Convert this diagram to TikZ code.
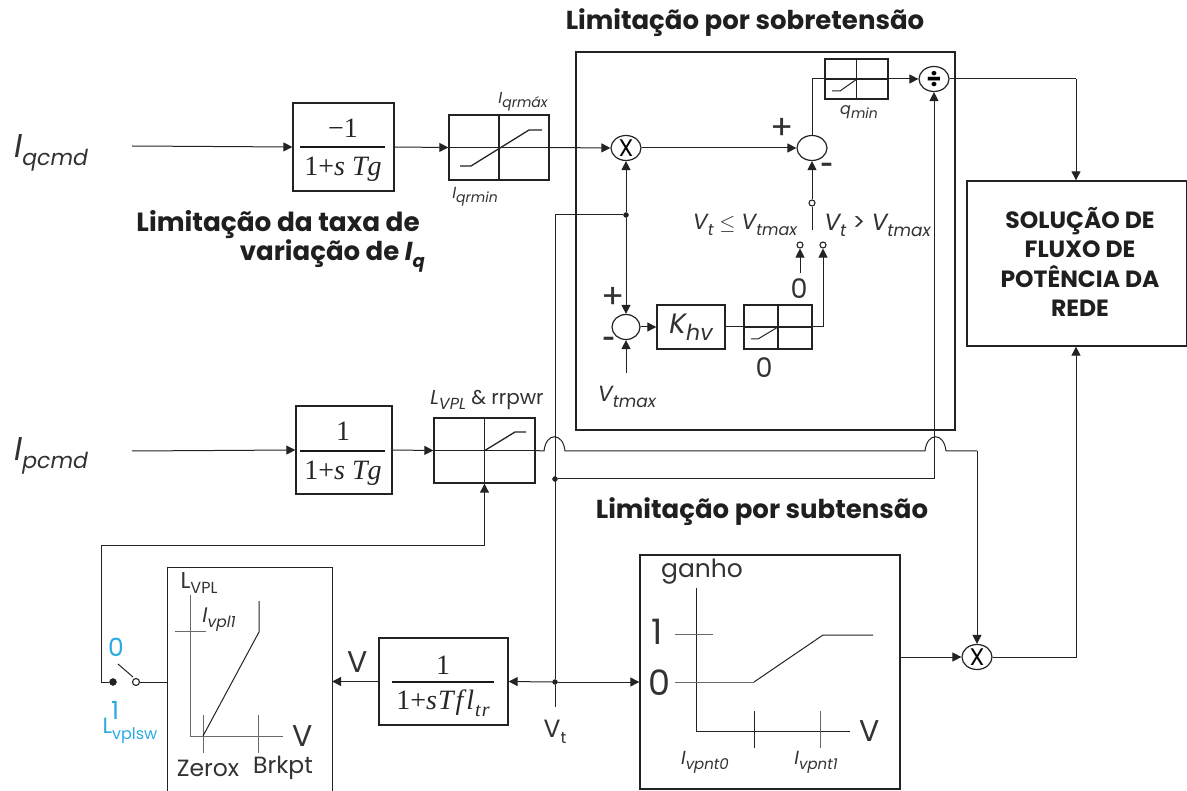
\documentclass[tikz,border=0pt]{standalone}
\usepackage[no-math]{fontspec}
\usepackage{amsmath,amssymb}
\setmainfont{Poppins}
\newfontfamily\fracfont{Liberation Serif}
\definecolor{lineDark}{RGB}{35, 35, 35}
\definecolor{axisGray}{RGB}{105, 105, 105}
\definecolor{textGray}{RGB}{50, 50, 50}
\definecolor{vplCyan}{RGB}{41, 171, 226}
\usetikzlibrary{positioning, calc, shapes.geometric, arrows.meta}
\newcommand{\fsize}[1]{\fontsize{#1}{#1}\selectfont}
\newcommand{\low}[2]{\raisebox{-0.25em}{\fsize{#1}#2}}
\begin{document}
\begin{tikzpicture}[
    x=1pt, y=-1pt,
    sig/.style={draw=lineDark, line width=1pt},
    arr/.style={sig, -{Triangle[length=9pt,width=9pt]}},
    blockbox/.style={rectangle, draw=lineDark, line width=1.3pt, inner sep=0pt},
    satbox/.style={blockbox, line width=1.4pt},
    satline/.style={draw=lineDark, line width=1.4pt},
    fracbar/.style={draw=black!90, line width=2.6pt},
    frac/.style={inner sep=0pt, text=black!85, font=\fracfont\fsize{28}},
    opnode/.style={ellipse, draw=lineDark, line width=1.2pt, fill=white, minimum width=30pt, minimum height=25pt, inner sep=0pt, font=\fsize{24}},
    dot/.style={circle, fill=lineDark, draw=lineDark, inner sep=0pt, minimum size=5pt},
    contact/.style={circle, draw=lineDark, fill=white, line width=1.1pt, inner sep=0pt, minimum size=6pt},
    title/.style={inner sep=0pt, text=black!88, font=\bfseries\fsize{26}},
    lbl/.style={inner sep=0pt, text=textGray, font=\fsize{16}},
    biglbl/.style={inner sep=0pt, text=textGray, font=\fsize{27}},
    axisline/.style={draw=axisGray, line width=1pt},
    curveline/.style={draw=lineDark, line width=1pt},
  ]
    \useasboundingbox (0,0) rectangle (1187,791);

    \node[title] (tover) at (745,23) {Limitação por sobretensão};
    \node[title] (tunder) at (762,512) {Limitação por subtensão};
    \node[title, anchor=east, font=\bfseries\fsize{26.3}] (trate) at (420,225) {Limitação da taxa de};
    \node[title, anchor=east] (tratei) at (425,256) {variação de \textit{I\low{18}{q}}};

    \node[inner sep=0pt, text=textGray, anchor=west, font=\fsize{33}] (iqcmd) at (14,153) {\textit{I\low{22}{qcmd}}};
    \node[inner sep=0pt, text=textGray, anchor=west, font=\fsize{33}] (ipcmd) at (14,456) {\textit{I\low{22}{pcmd}}};
    \coordinate (iqin) at (132,146);
    \coordinate (ipin) at (132,451);

    \node[blockbox, minimum width=101pt, minimum height=88pt] (lagq) at (343.5,147) {};
    \node[frac] (lagqnum) at (343,128) {−1};
    \node[frac] (lagqden) at (343,169) {1+\textit{s\kern7pt Tg}};
    \draw[fracbar] (300,147) -- (385,147);

    \node[blockbox, minimum width=96pt, minimum height=88pt] (lagp) at (344,450) {};
    \node[frac] (lagpnum) at (343,431) {1};
    \node[frac] (lagpden) at (343,473) {1+\textit{s\kern7pt Tg}};
    \draw[fracbar] (300,451) -- (385,451);

    \node[blockbox, minimum width=129pt, minimum height=87pt] (lagv) at (443.5,681.5) {};
    \node[frac] (lagvnum) at (443,665) {1};
    \node[frac] (lagvden) at (443,703) {1+\textit{s\kern1pt T\kern2pt f\kern3pt l}\low{20}{\textit{\kern1pt t\kern1pt r}}};
    \draw[fracbar] (392,682) -- (494,682);

    \node[satbox, minimum width=100pt, minimum height=65pt] (satq) at (499,147.5) {};
    \draw[satline] (satq.north) -- (satq.south) (satq.west) -- (satq.east);
    \draw[curveline, line width=1.3pt] (460,166) -- (471,166) -- (529,130) -- (542,130);
    \node[lbl] (iqmax) at (523,102) {\textit{I\low{14}{qrmáx}}};
    \node[lbl] (iqmin) at (475,197) {\textit{I\low{14}{qrmin}}};

    \node[satbox, minimum width=101pt, minimum height=65pt] (satp) at (484.5,450.5) {};
    \draw[satline] (satp.north) -- (satp.south) (satp.west) -- (satp.east);
    \draw[curveline, line width=1.3pt] (484,451) -- (515,432) -- (526,432);
    \node[lbl, font=\fsize{20}] (lvpl) at (487,400) {\textit{L\low{16}{VPL}} \& rrpwr};

    \node[blockbox, minimum width=379pt, minimum height=378pt] (overbox) at (765.5,241) {};

    \node[satbox, minimum width=63pt, minimum height=40pt] (satqmin) at (856.5,79) {};
    \draw[satline] (satqmin.north) -- (satqmin.south) (satqmin.west) -- (satqmin.east);
    \draw[curveline] (832,91) -- (840,91) -- (857,79);
    \node[lbl] (qmin) at (859,112) {\textit{q\low{14}{min}}};

    \node[opnode] (div) at (934,79) {\bfseries ÷};
    \node[opnode] (multq) at (626,148) {X};
    \node[opnode] (sumq) at (812,148) {};
    \node[opnode, minimum width=28pt] (sumv) at (626,327) {};
    \node[opnode] (multp) at (977,657) {X};

    \node[lbl, font=\fsize{34}] (plusq) at (782,129) {+};
    \node[lbl, font=\bfseries\fsize{22}] (minusq) at (827,168) {-};
    \node[lbl, font=\fsize{34}] (plusv) at (613,298) {+};
    \node[lbl, font=\bfseries\fsize{22}] (minusv) at (609,342) {-};

    \node[blockbox, minimum width=68pt, minimum height=44pt, text=textGray, font=\fsize{28}] (khv) at (691,327) {\textit{K\low{22}{hv}}};
    \node[satbox, minimum width=68pt, minimum height=44pt] (sathv) at (778,327) {};
    \draw[satline] (sathv.north) -- (sathv.south) (sathv.west) -- (sathv.east);
    \draw[curveline] (751,339) -- (758,339) -- (778,327);
    \node[biglbl] (zerohv) at (764,368) {0};
    \node[biglbl] (zerosw) at (799,289) {0};
    \node[lbl, font=\fsize{22}] (vtmaxv) at (627,397) {\textit{V\low{17}{tmax}}};
    \coordinate (vtmaxin) at (626,373);

    \node[contact] (swcom) at (812,203) {};
    \coordinate (swarm) at (812,230);
    \node[contact] (swlow) at (800,245) {};
    \node[contact] (swhigh) at (823,245) {};
    \coordinate (zeroin) at (800,273);
    \node[lbl, font=\fsize{22}] (vtle) at (745,225) {\textit{V\low{16}{t}} $\leq$ \textit{V\low{16}{tmax}}};
    \node[lbl, font=\fsize{23.5}] (vtgt) at (877.5,225) {\textit{V\low{17}{t}} > \textit{V\low{17}{tmax}}};

    \node[blockbox, minimum width=220pt, minimum height=165pt] (grid) at (1077,263.5) {};
    \node[align=center, inner sep=0pt, text=black!88, font=\bfseries\fontsize{23.5}{29.6}\selectfont] (gridtext) at (1080,262) {SOLUÇÃO DE\\FLUXO DE\\POTÊNCIA DA\\REDE};

    \node[inner sep=0pt, minimum width=164pt, minimum height=223pt] (vplbox) at (250,679.5) {};
    \draw[blockbox] (vplbox.south west) -- (vplbox.north west) -- (vplbox.north east) -- (vplbox.south east);
    \draw[axisline] (190,595) -- (190,736) -- (283,736);
    \draw[axisline] (175,631) -- (206,631);
    \draw[axisline] (203,715) -- (203,753);
    \draw[axisline] (258,715) -- (258,753);
    \draw[curveline] (203,736) -- (259,632) -- (259,601);
    \node[lbl, font=\fsize{23}] (lvplaxis) at (199,583) {L\low{16}{VPL}};
    \node[lbl, font=\fsize{21}] (ivpl) at (219,620) {\textit{I\low{15.5}{vpl1}}};
    \node[biglbl, font=\fsize{30}] (vplv) at (303,736) {V};
    \node[lbl, font=\fsize{23.5}] (zerox) at (208,768) {Zerox};
    \node[lbl, font=\fsize{23.5}] (brkpt) at (283,768) {Brkpt};

    \node[blockbox, minimum width=260pt, minimum height=234pt] (gainbox) at (770,672) {};
    \draw[axisline, draw=lineDark] (696,588) -- (696,731) -- (850,731);
    \draw[axisline] (675,634) -- (713,634);
    \draw[axisline] (675,682) -- (754,682);
    \draw[curveline] (754,682) -- (823,635) -- (873,635);
    \draw[curveline] (754,711) -- (754,748);
    \draw[axisline] (820,711) -- (820,748);
    \node[lbl, font=\fsize{25}] (ganho) at (702,572) {ganho};
    \node[lbl, font=\fsize{35}] (gainone) at (657,632) {1};
    \node[lbl, font=\fsize{35}] (gainzero) at (659,683) {0};
    \node[biglbl, font=\fsize{30}] (gainv) at (870,731) {V};
    \node[lbl, font=\fsize{19}] (ipnt0) at (705,762) {\textit{I\low{15}{vpnt0}}};
    \node[lbl, font=\fsize{19}] (ipnt1) at (816,762) {\textit{I\low{15}{vpnt1}}};

    \node[dot] (vtjunc) at (555,682) {};
    \node[dot] (vtup) at (626,215) {};
    \node[dot] (vtdiv) at (555,479) {};
    \coordinate (vtend) at (555,707);
    \node[lbl, font=\fsize{25}] (vtlabel) at (555,732) {V\low{16}{t}};
    \node[biglbl, font=\fsize{30}] (vlag) at (358,662) {V};

    \node[dot, minimum size=7pt] (swout) at (113,682) {};
    \node[contact, minimum size=7pt] (swin) at (136,682) {};
    \coordinate (swlever) at (118,664);
    \coordinate (swlevertip) at (133,677);
    \node[lbl, text=vplCyan, font=\fsize{25}] (swzero) at (116,647) {0};
    \node[lbl, text=vplCyan, font=\fsize{25}] (swone) at (115,710) {1};
    \node[lbl, text=vplCyan, font=\fsize{22}] (swname) at (130,731) {L\low{16}{vplsw}};

    \coordinate (jumpain) at (544,451);
    \coordinate (jumpaout) at (565,451);
    \coordinate (jumpbin) at (925,451);
    \coordinate (jumpbout) at (946,451);
    \coordinate (limleft) at (101,546);
    \coordinate (limdown) at (101,682);
    \coordinate (outtop) at (1076,79);

    \draw[arr] (iqin) -- (lagq.west);
    \draw[arr] (lagq.east) -- (satq.west);
    \draw[arr] (satq.east) -- (multq.west);
    \draw[arr] (multq.east) -- (sumq.west);
    \draw[arr] (sumq.north) |- (div.west);
    \draw[sig] (div.east) -- (outtop);
    \draw[arr] (outtop) -- (outtop |- grid.north);
    \draw[arr] (swcom.north) -- (sumq.south);
    \draw[sig] (swcom.south) -- (swarm);
    \draw[arr] (zeroin) -- (swlow.south);
    \draw[arr] (sathv.east) -| (swhigh.south);
    \draw[sig] (khv.east) -- (sathv.west);
    \draw[arr] (sumv.east) -- (khv.west);
    \draw[arr] (vtup.north) -- (multq.south);
    \draw[arr] (vtup.south) -- (sumv.north);
    \draw[arr] (vtmaxin) -- (sumv.south);
    \draw[sig] (vtup.west) -| (vtjunc.north);
    \draw[sig] (vtjunc.south) -- (vtend);
    \draw[arr] (vtdiv.east) -| (div.south);

    \draw[arr] (ipin) -- (lagp.west);
    \draw[arr] (lagp.east) -- (satp.west);
    \draw[sig] (satp.east) -- (jumpain) .. controls +(2,-19) and +(-2,-19) .. (jumpaout) -- (jumpbin) .. controls +(2,-19) and +(-2,-19) .. (jumpbout) -- (jumpbout -| multp.north);
    \draw[arr] (jumpbout -| multp.north) -- (multp.north);

    \draw[arr] (lagv.west) -- (vplbox.east |- lagv.west);
    \draw[arr] (vtjunc.west) -- (lagv.east);
    \draw[arr] (vtjunc.east) -- (gainbox.west |- vtjunc.east);
    \draw[arr] (gainbox.east |- multp.west) -- (multp.west);
    \draw[arr] (multp.east) -| (outtop |- grid.south);

    \draw[sig] (vplbox.west |- swin.east) -- (swin.east);
    \draw[sig] (swlever) -- (swlevertip);
    \draw[sig] (swout.west) -- (limdown) -- (limleft);
    \draw[arr] (limleft) -| (satp.south);
  \end{tikzpicture}
\end{document}
